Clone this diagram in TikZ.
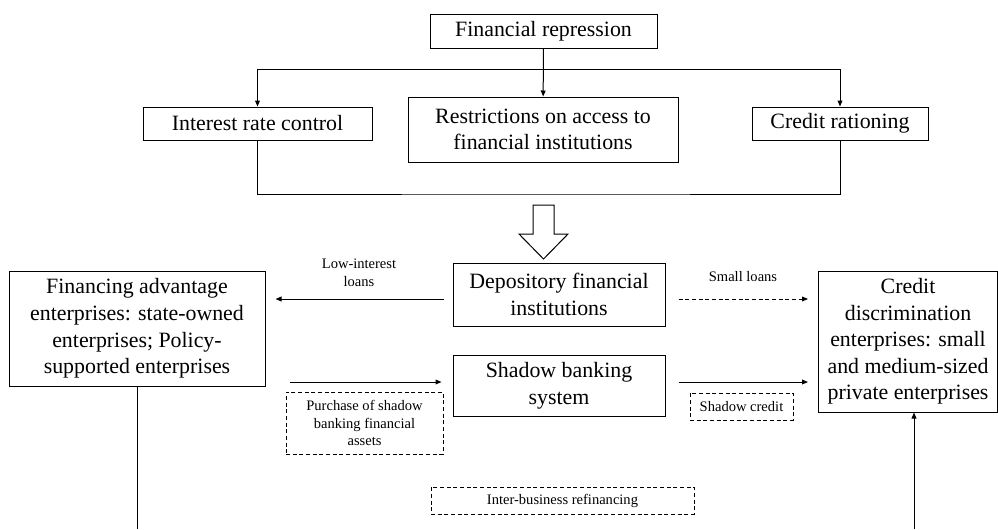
\documentclass[tikz,border=0pt]{standalone}
\usepackage{fontspec}
\setmainfont{Liberation Serif}
\usetikzlibrary{arrows.meta}

\newcommand{\pxu}{0.75pt}
\newcommand{\bigtext}{\fontsize{16.4}{19.9}\selectfont}
\newcommand{\smalltext}{\fontsize{10.9}{13.3}\selectfont}

\tikzset{
  box/.style={draw, line width=0.75pt, align=center, font=\bigtext, inner sep=0pt},
  tag/.style={draw, line width=0.6pt, dash pattern=on 3pt off 2pt, align=center, font=\smalltext, inner sep=0pt},
  lbl/.style={align=center, font=\smalltext, inner sep=0pt},
  arr/.style={-{Triangle[length=4.5pt,width=3.6pt]}},
}

\begin{document}
\begin{tikzpicture}[x=0.75pt, y=-0.75pt, line width=0.75pt]
\useasboundingbox (0,0) rectangle (998,529);

% top: repression and its three forms
\node[box, minimum width=227*\pxu, minimum height=34*\pxu] (repr) at (543.5,31) {Financial repression};
\node[box, minimum width=229*\pxu, minimum height=33*\pxu] (rate) at (257.5,123.5) {Interest rate control};
\node[box, minimum width=270*\pxu, minimum height=65*\pxu] (access) at (543,129.5) {Restrictions on access to\\financial institutions};
\node[box, minimum width=176*\pxu, minimum height=33*\pxu] (ration) at (840,123.5) {Credit rationing};

\coordinate (split) at (543,69);
\coordinate (merge) at (543,194);

\draw[arr] (repr) -- (access);
\draw[arr] (split -| rate) -- (rate);
\draw (split -| rate) -- (split -| ration);
\draw[arr] (split -| ration) -- (ration);
\draw (rate) |- (merge) -| (ration);

% hollow block arrow
\draw[line join=miter] (533,205) -- (554,205) -- (554,234) -- (568,234) -- (543.5,259)
  -- (519,234) -- (533,234) -- cycle;

% middle: institutions and enterprises
\node[box, minimum width=212*\pxu, minimum height=63*\pxu] (depo) at (559,294.5) {Depository financial\\institutions};
\node[box, minimum width=212*\pxu, minimum height=61*\pxu] (shadow) at (559,385.5) {Shadow banking\\system};
\node[box, minimum width=256*\pxu, minimum height=115*\pxu] (adv) at (137,328.5) {Financing advantage\\enterprises: state-owned\\enterprises; Policy-\\supported enterprises};
\node[box, minimum width=179*\pxu, minimum height=141*\pxu] (discr) at (908,341.5) {Credit\\discrimination\\enterprises: small\\and medium-sized\\private enterprises};

% labels
\node[lbl] (lowlbl) at (359,273) {Low-interest\\loans};
\node[lbl] (smalllbl) at (743,277) {Small loans};
\node[tag, minimum width=157*\pxu, minimum height=62*\pxu] (buytag) at (364.5,423) {Purchase of shadow\\banking financial\\assets};
\node[tag, minimum width=103*\pxu, minimum height=27*\pxu] (credtag) at (741.5,406.5) {Shadow credit};
\node[tag, minimum width=263*\pxu, minimum height=27*\pxu] (refitag) at (562.5,500.5) {Inter-business refinancing};

\coordinate (loanrow) at (0,299);
\coordinate (buyrow) at (0,382);
\coordinate (bottom) at (0,529);
\coordinate (refisrc) at (914,529);

\draw[arr, shorten <=9*\pxu, shorten >=10*\pxu] (depo.west |- loanrow) -- (adv.east |- loanrow);
\draw[arr, dash pattern=on 3pt off 2pt, shorten <=13*\pxu, shorten >=10*\pxu] (depo.east |- loanrow) -- (discr.west |- loanrow);
\draw[arr, shorten <=24*\pxu, shorten >=11*\pxu] (adv.east |- buyrow) -- (shadow.west |- buyrow);
\draw[arr, shorten <=13*\pxu, shorten >=10*\pxu] (shadow.east |- buyrow) -- (discr.west |- buyrow);

% bottom: lines leaving the frame
\draw (adv.south) -- (adv.south |- bottom);
\draw[arr] (refisrc) -- (refisrc |- discr.south);

\end{tikzpicture}
\end{document}
